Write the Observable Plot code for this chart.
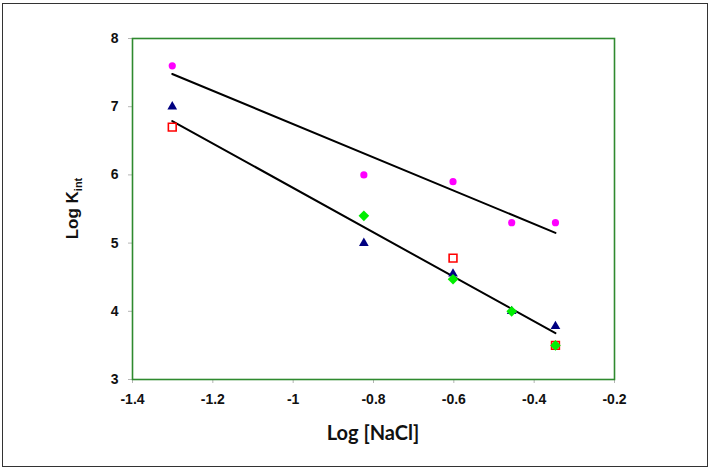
<!DOCTYPE html>
<html>
<head>
<meta charset="utf-8">
<script src="https://cdn.jsdelivr.net/npm/d3@7"></script>
<script src="https://cdn.jsdelivr.net/npm/@observablehq/plot@0.6"></script>
<style>
  body { margin: 0; background: #fff; }
  #wrap { position: relative; width: 711px; height: 468px; }
  #border { position: absolute; left: 2px; top: 3px; width: 704px; height: 462px;
            border: 1px solid #333; pointer-events: none; }
</style>
</head>
<body>
<div id="wrap"><div id="border"></div></div>
<script>
// Salt concentrations (log10 of 0.05, 0.15, 0.25, 0.35, 0.45 M)
const logNaCl = [-1.301, -0.824, -0.602, -0.456, -0.347];

// Series measured at every concentration
const circleLogK = [7.6, 6.0, 5.9, 5.3, 5.3];
const triangleLogK = [7.0, 5.0, 4.55, 4.0, 3.78];

// Series measured at a subset of concentrations
const squareNaCl = [-1.301, -0.602, -0.347];
const squareLogK = [6.7, 4.78, 3.5];
const diamondNaCl = [-0.824, -0.602, -0.456, -0.347];
const diamondLogK = [5.4, 4.47, 4.0, 3.5];

// Linear trend lines (end points)
const fitNaCl = [-1.301, -0.347];
const upperFit = [7.48, 5.15];
const lowerFit = [6.79, 3.68];

// Axis ticks
const xTicks = [-1.4, -1.2, -1, -0.8, -0.6, -0.4, -0.2];
const yTicks = [3, 4, 5, 6, 7, 8];

const chart = Plot.plot({
  width: 711,
  height: 468,
  marginLeft: 132,
  marginRight: 97,
  marginTop: 38,
  marginBottom: 89,
  style: {
    fontFamily: "'Liberation Sans', Arial, sans-serif",
    fontSize: "14px",
    fontWeight: "bold",
    color: "#111",
    background: "transparent"
  },
  x: { domain: [-1.4, -0.2] },
  y: { domain: [3, 8] },
  marks: [
    Plot.axisX(xTicks, { tickSize: 4, tickPadding: 11, tickFormat: d => String(d),
                         stroke: "#b5b5b5", fill: "#111", label: null }),
    Plot.axisY(yTicks, { tickSize: 4, tickPadding: 10, tickFormat: d => String(d),
                         stroke: "#b5b5b5", fill: "#111", label: null }),
    Plot.frame({ stroke: "#2f8a2f", strokeWidth: 1.6 }),
    Plot.line(fitNaCl, { x: fitNaCl, y: upperFit, stroke: "#000", strokeWidth: 2 }),
    Plot.line(fitNaCl, { x: fitNaCl, y: lowerFit, stroke: "#000", strokeWidth: 2 }),
    Plot.dot(logNaCl, { x: logNaCl, y: circleLogK, r: 3.6, fill: "#ff00ff" }),
    Plot.dot(logNaCl, { x: logNaCl, y: triangleLogK, symbol: "triangle", r: 3.6, fill: "#000080" }),
    Plot.dot(squareNaCl, { x: squareNaCl, y: squareLogK, symbol: "square", r: 4.4,
                           fill: "none", stroke: "#ff0000", strokeWidth: 1.6 }),
    Plot.dot(diamondNaCl, { x: diamondNaCl, y: diamondLogK, symbol: "diamond2", r: 4.8, fill: "#00ee00" })
  ]
});

document.getElementById("wrap").prepend(chart);

// Axis titles
const svg = d3.select(chart);
const [x0, x1] = chart.scale("x").range;
const [yb, yt] = chart.scale("y").range;

svg.append("text")
  .attr("x", (x0 + x1) / 2)
  .attr("y", 440)
  .attr("text-anchor", "middle")
  .style("font-family", "Lato, 'Liberation Sans', sans-serif")
  .style("font-weight", "bold")
  .style("font-size", "20px")
  .attr("fill", "#111")
  .text("Log [NaCl]");

const yTitle = svg.append("text")
  .attr("transform", `translate(78,${(yb + yt) / 2}) rotate(-90)`)
  .attr("text-anchor", "middle")
  .style("font-family", "'Liberation Sans', Arial, sans-serif")
  .style("font-weight", "bold")
  .style("font-size", "17px")
  .attr("fill", "#111");
yTitle.append("tspan").text("Log K");
yTitle.append("tspan").attr("dy", 4).style("font-size", "11px").text("int");
</script>
</body>
</html>
